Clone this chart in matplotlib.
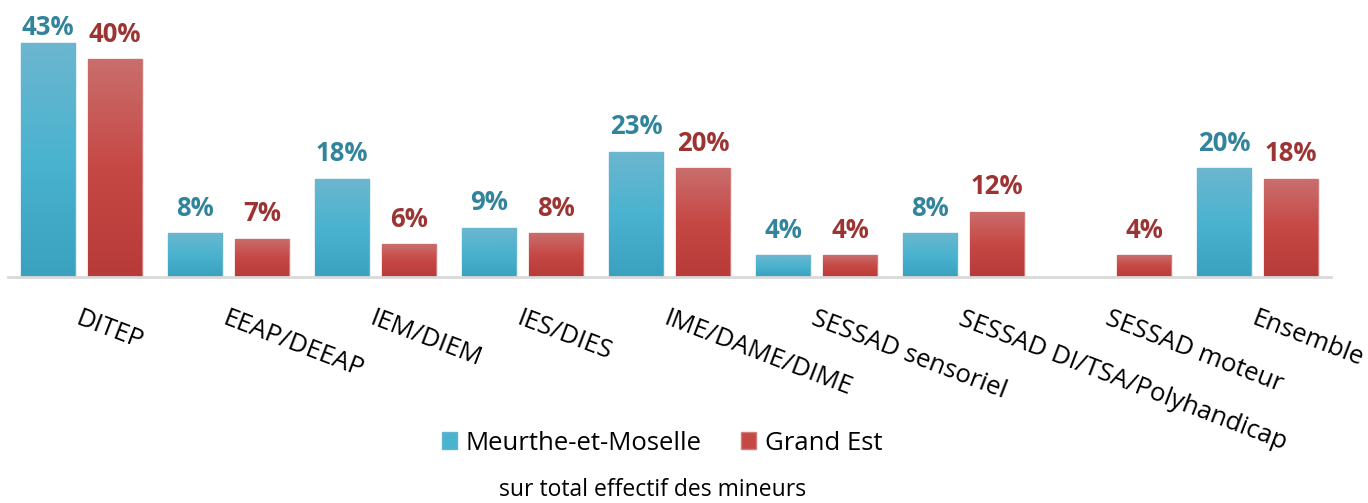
import matplotlib.pyplot as plt
import numpy as np
from matplotlib.colors import LinearSegmentedColormap

plt.rcParams['font.family'] = ['Open Sans', 'DejaVu Sans']

categories = ['DITEP', 'EEAP/DEEAP', 'IEM/DIEM', 'IES/DIES', 'IME/DAME/DIME',
              'SESSAD sensoriel', 'SESSAD DI/TSA/Polyhandicap', 'SESSAD moteur', 'Ensemble']
meurthe = [43, 8, 18, 9, 23, 4, 8, np.nan, 20]
grand_est = [40, 7, 6, 8, 20, 4, 12, 4, 18]

fig = plt.figure(figsize=(13.68, 5.03), dpi=100)
ax = fig.add_axes([8/1368, 226/503, 1323/1368, 245/503])

x = np.arange(len(categories))
w = 54/147
off = 67/147/2

cm_blue = LinearSegmentedColormap.from_list('b', ['#3aa1be', '#4ab3cf', '#6cb6cf'])
cm_red = LinearSegmentedColormap.from_list('r', ['#b73b39', '#c64845', '#c96e6c'])
grad = np.linspace(0, 1, 100).reshape(-1, 1)

series = [(meurthe, -off, cm_blue, '#64b4cc', '#31849b', 'Meurthe-et-Moselle'),
          (grand_est, off, cm_red, '#d07d7b', '#9b3432', 'Grand Est')]

for vals, dx, cmap, edge, tcol, name in series:
    bars = ax.bar(x + dx, vals, w, color=cmap(0.5), edgecolor=edge, linewidth=1,
                  label=name, zorder=2)
    for b, v in zip(bars, vals):
        if np.isnan(v):
            continue
        im = ax.imshow(grad, cmap=cmap, origin='lower', aspect='auto', zorder=2.5,
                       extent=[b.get_x(), b.get_x() + b.get_width(), 0, v])
        im.set_clip_path(b)
        # labels sit above the bar, kept inside the plot area like Excel
        ax.text(b.get_x() + b.get_width()/2, min(v + 4.6, 45.8), f'{v:.0f}%',
                ha='center', va='center', fontsize=18.5, fontweight='bold',
                color=tcol, clip_on=False)

ax.set_xlim(-0.5, len(categories) - 0.5)
ax.set_ylim(0, 45)
for s in ['top', 'right', 'left']:
    ax.spines[s].set_visible(False)
ax.spines['bottom'].set_color('#d9d9d9')
ax.spines['bottom'].set_linewidth(2)
ax.set_yticks([])
ax.set_xticks(x)
ax.set_xticklabels(categories, rotation=-21, ha='left', rotation_mode='anchor',
                   fontsize=18.5)
ax.tick_params(axis='x', length=0, pad=21)

handles, labels = ax.get_legend_handles_labels()
fig.legend(handles, labels, loc='center', bbox_to_anchor=(662/1368, 1 - 443/503),
           ncol=2, frameon=False, fontsize=18.5, handlelength=0.6, handleheight=0.6,
           handletextpad=0.35, columnspacing=1.5)
fig.text(653/1368, 1 - 490/503, 'sur total effectif des mineurs', ha='center',
         va='center', fontsize=16.5)

fig.savefig('out.png', dpi=100)
